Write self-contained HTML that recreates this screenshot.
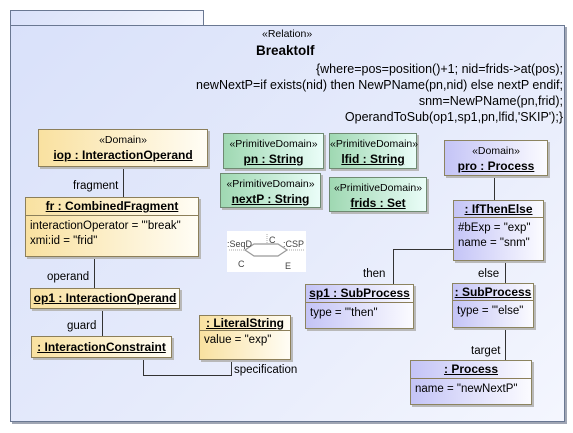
<!DOCTYPE html>
<html><head><meta charset="utf-8"><style>
*{margin:0;padding:0;box-sizing:border-box}
body{width:573px;height:433px;background:#fff;position:relative;overflow:hidden;font-family:"Liberation Sans",sans-serif;font-size:11.5px;color:#000}
.a{position:absolute}
.frame{border:1px solid #6a7892;background:linear-gradient(135deg,#d9e1fa 0%,#e6ebfb 55%,#f4f6fe 100%);box-shadow:2px 2px 0 #a0a6b4}
.box{position:absolute;border:1px solid #8c7f5a;box-shadow:2px 2px 0 #b9b9b9;text-align:center;line-height:15px}
.y{background:linear-gradient(90deg,#f9e1a0,#fffdf5)}
.g{background:linear-gradient(90deg,#9fd8b2,#eafdf8);border-color:#6f8a72}
.p{background:linear-gradient(90deg,#c4c4f6,#fbfbff);border-color:#8c8460}
.n{font-weight:bold;text-decoration:underline;font-size:12px}
.hd{border-bottom:1px solid #8c7f5a}
.at{text-align:left;padding:3px 4px;line-height:15px}
.l{position:absolute;background:#333}
.t{position:absolute;white-space:nowrap}
</style></head><body>
<div class="a frame" style="left:10px;top:10px;width:194px;height:16px;border-bottom:none;box-shadow:none"></div>
<div class="a frame" style="left:10px;top:25px;width:555px;height:397px"></div>
<div class="t" style="left:262px;top:28px;font-size:10.5px">«Relation»</div>
<div class="t" style="left:256px;top:43px;font-size:13.5px;font-weight:bold">BreaktoIf</div>
<div class="a" style="right:10px;top:61px;text-align:right;line-height:16px;font-size:12.5px;white-space:nowrap">{where=pos=position()+1; nid=frids-&gt;at(pos);<br>newNextP=if exists(nid) then NewPName(pn,nid) else nextP endif;<br>snm=NewPName(pn,frid);<br>OperandToSub(op1,sp1,pn,lfid,'SKIP');}</div>

<!-- lines -->
<div class="l" style="left:123px;top:167px;width:1px;height:30px"></div>
<div class="l" style="left:94px;top:257px;width:1px;height:31px"></div>
<div class="l" style="left:102px;top:309px;width:1px;height:28px"></div>
<div class="l" style="left:143px;top:358px;width:1px;height:17px"></div>
<div class="l" style="left:143px;top:375px;width:88px;height:1px"></div>
<div class="l" style="left:231px;top:360px;width:1px;height:16px"></div>
<div class="l" style="left:494px;top:176px;width:1px;height:24px"></div>
<div class="l" style="left:393px;top:249px;width:60px;height:1px"></div>
<div class="l" style="left:393px;top:249px;width:1px;height:35px"></div>
<div class="l" style="left:505px;top:261px;width:1px;height:22px"></div>
<div class="l" style="left:505px;top:328px;width:1px;height:32px"></div>
<div class="t" style="left:73px;top:180px">fragment</div>
<div class="t" style="left:47px;top:271px">operand</div>
<div class="t" style="left:67px;top:320px">guard</div>
<div class="t" style="left:234px;top:364px">specification</div>
<div class="t" style="left:363px;top:268px">then</div>
<div class="t" style="left:478px;top:268px">else</div>
<div class="t" style="left:471px;top:345px">target</div>

<!-- yellow -->
<div class="box y" style="left:38px;top:129px;width:170px;height:38px;padding-top:3px"><div style="font-size:10.5px">«Domain»</div><div class="n">iop : InteractionOperand</div></div>
<div class="box y" style="left:25px;top:197px;width:174px;height:60px"><div class="n hd" style="height:18px;line-height:17px">fr : CombinedFragment</div><div class="at">interactionOperator = "'break"<br>xmi:id = "frid"</div></div>
<div class="box y" style="left:30px;top:288px;width:150px;height:21px;line-height:19px"><div class="n">op1 : InteractionOperand</div></div>
<div class="box y" style="left:31px;top:336px;width:141px;height:22px;line-height:20px"><div class="n">: InteractionConstraint</div></div>
<div class="box y" style="left:199px;top:315px;width:92px;height:45px"><div class="n hd" style="height:15px;line-height:14px">: LiteralString</div><div class="at" style="padding-top:2px">value = "exp"</div></div>

<!-- green -->
<div class="box g" style="left:223px;top:133px;width:101px;height:36px;padding-top:3px"><div style="font-size:10.5px">«PrimitiveDomain»</div><div class="n">pn : String</div></div>
<div class="box g" style="left:329px;top:133px;width:88px;height:36px;padding-top:3px"><div style="font-size:10.5px">«PrimitiveDomain»</div><div class="n">lfid : String</div></div>
<div class="box g" style="left:220px;top:173px;width:101px;height:35px;padding-top:3px"><div style="font-size:10.5px">«PrimitiveDomain»</div><div class="n">nextP : String</div></div>
<div class="box g" style="left:329px;top:177px;width:98px;height:35px;padding-top:3px"><div style="font-size:10.5px">«PrimitiveDomain»</div><div class="n">frids : Set</div></div>

<!-- icon -->
<div class="a" style="left:227px;top:231px;width:79px;height:41px;background:#fff"></div>
<svg class="a" style="left:227px;top:231px" width="79" height="41" viewBox="0 0 79 41">
<polygon points="18,19 27,13 51,13 60,19 51,25 27,25" fill="none" stroke="#999" stroke-width="1.2"/>
<line x1="40" y1="3" x2="40" y2="13" stroke="#aaa" stroke-dasharray="1,1"/>
<line x1="2" y1="19" x2="18" y2="19" stroke="#aaa" stroke-dasharray="1,1"/>
<line x1="60" y1="19" x2="77" y2="19" stroke="#aaa" stroke-dasharray="1,1"/>
<text x="0" y="16" font-size="9" font-family="Liberation Sans" fill="#444">:SeqD</text>
<text x="42" y="12" font-size="9" font-family="Liberation Sans" fill="#444">C</text>
<text x="56" y="16" font-size="9" font-family="Liberation Sans" fill="#444">:CSP</text>
<text x="11" y="36" font-size="9" font-family="Liberation Sans" fill="#444">C</text>
<text x="58" y="38" font-size="9" font-family="Liberation Sans" fill="#444">E</text>
</svg>

<!-- purple -->
<div class="box p" style="left:444px;top:140px;width:104px;height:36px;padding-top:3px"><div style="font-size:10.5px">«Domain»</div><div class="n">pro : Process</div></div>
<div class="box p" style="left:453px;top:200px;width:91px;height:61px"><div class="n hd" style="height:17px;line-height:16px">: IfThenElse</div><div class="at">#bExp = "exp"<br>name = "snm"</div></div>
<div class="box p" style="left:305px;top:284px;width:109px;height:45px"><div class="n hd" style="height:18px;line-height:17px">sp1 : SubProcess</div><div class="at">type = "'then"</div></div>
<div class="box p" style="left:452px;top:283px;width:82px;height:45px"><div class="n hd" style="height:17px;line-height:16px">: SubProcess</div><div class="at">type = "'else"</div></div>
<div class="box p" style="left:410px;top:360px;width:122px;height:45px"><div class="n hd" style="height:18px;line-height:17px">: Process</div><div class="at">name = "newNextP"</div></div>
</body></html>
